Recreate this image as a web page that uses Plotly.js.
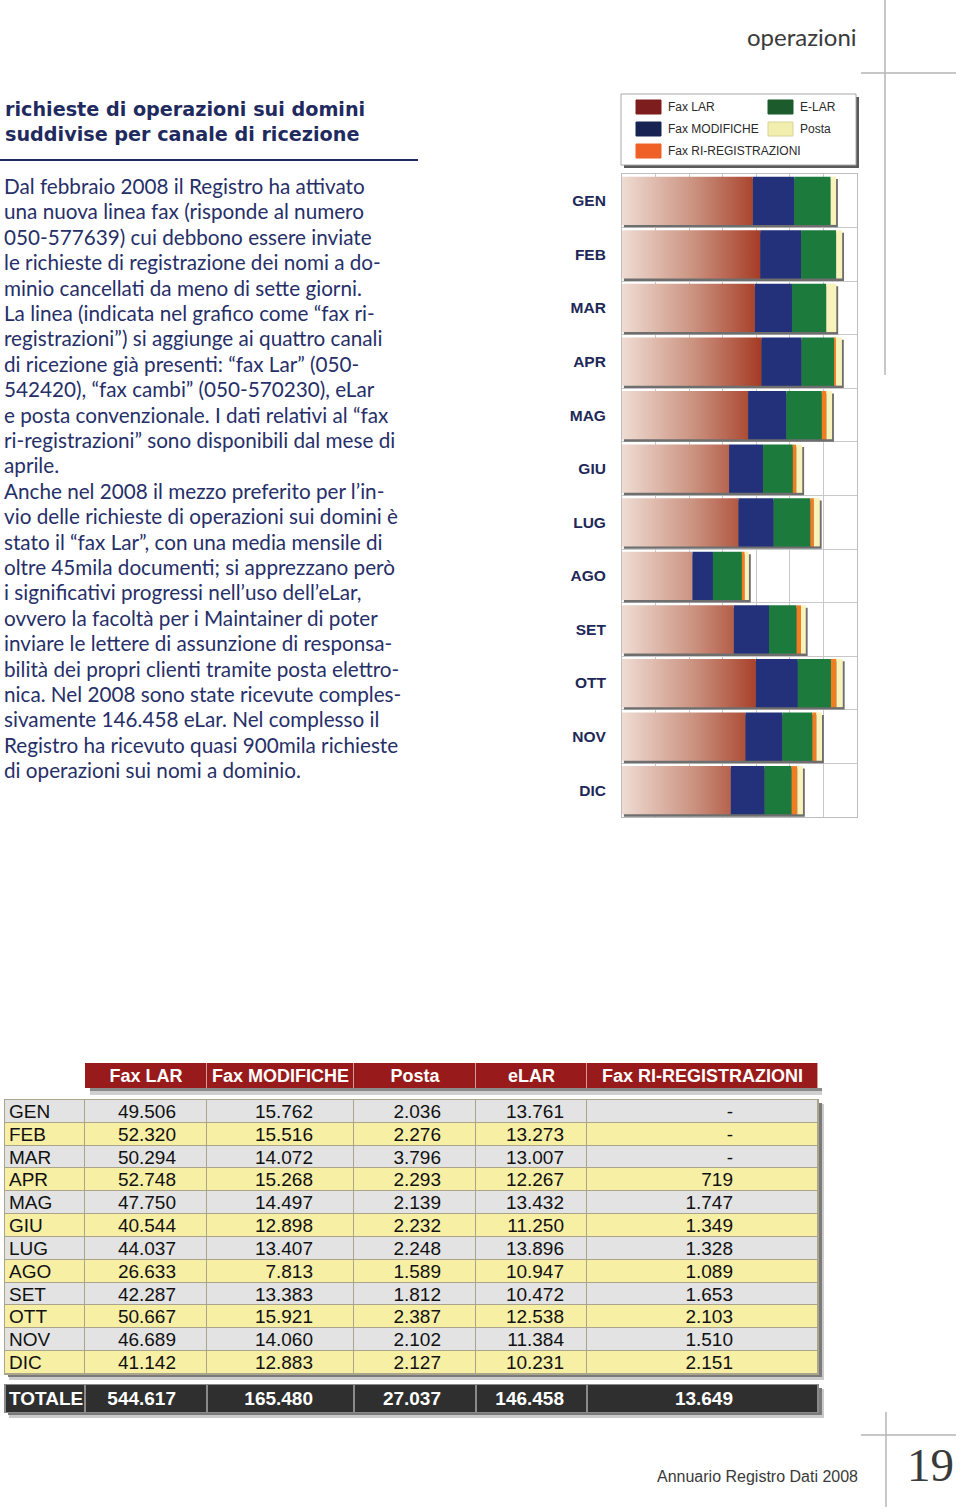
<!DOCTYPE html>
<html><head><meta charset="utf-8">
<script src="https://cdn.plot.ly/plotly-3.0.1.min.js"></script>
<style>html,body{margin:0;padding:0;background:#fff;}#chart{width:960px;height:1509px;}</style>
</head><body><div id="chart"></div>
<script>
// ---------------- DATA ----------------
const months = ['GEN','FEB','MAR','APR','MAG','GIU','LUG','AGO','SET','OTT','NOV','DIC'];
const faxLar = [49506,52320,50294,52748,47750,40544,44037,26633,42287,50667,46689,41142];
const faxModifiche = [15762,15516,14072,15268,14497,12898,13407,7813,13383,15921,14060,12883];
const posta = [2036,2276,3796,2293,2139,2232,2248,1589,1812,2387,2102,2127];
const eLar = [13761,13273,13007,12267,13432,11250,13896,10947,10472,12538,11384,10231];
const faxRiReg = [null,null,null,719,1747,1349,1328,1089,1653,2103,1510,2151];
const totali = [544617,165480,27037,146458,13649];
const tableHeaders = ['Fax LAR','Fax MODIFICHE','Posta','eLAR','Fax RI-REGISTRAZIONI'];
const totalLabel = 'TOTALE';
const legendLabels = ['Fax LAR','Fax MODIFICHE','Fax RI-REGISTRAZIONI','E-LAR','Posta'];
const titleLines = ['richieste di operazioni sui domini','suddivise per canale di ricezione'];
const bodyLines = [
 'Dal febbraio 2008 il Registro ha attivato',
 'una nuova linea fax (risponde al numero',
 '050-577639) cui debbono essere inviate',
 'le richieste di registrazione dei nomi a do-',
 'minio cancellati da meno di sette giorni.',
 'La linea (indicata nel grafico come “fax ri-',
 'registrazioni”) si aggiunge ai quattro canali',
 'di ricezione già presenti: “fax Lar” (050-',
 '542420), “fax cambi” (050-570230), eLar',
 'e posta convenzionale. I dati relativi al “fax',
 'ri-registrazioni” sono disponibili dal mese di',
 'aprile.',
 'Anche nel 2008 il mezzo preferito per l’in-',
 'vio delle richieste di operazioni sui domini è',
 'stato il “fax Lar”, con una media mensile di',
 'oltre 45mila documenti; si apprezzano però',
 'i significativi progressi nell’uso dell’eLar,',
 'ovvero la facoltà per i Maintainer di poter',
 'inviare le lettere di assunzione di responsa-',
 'bilità dei propri clienti tramite posta elettro-',
 'nica. Nel 2008 sono state ricevute comples-',
 'sivamente 146.458 eLar. Nel complesso il',
 'Registro ha ricevuto quasi 900mila richieste',
 'di operazioni sui nomi a dominio.'
];
const sectionLabel = 'operazioni';
const footerLabel = 'Annuario Registro Dati 2008';
const pageNumber = '19';

// ---------------- HELPERS ----------------
const W = 960, H = 1509;
const px = x => x / W, py = y => 1 - y / H;
const fmt = v => (v === null || v === undefined) ? '-' : String(v).replace(/\B(?=(\d{3})+(?!\d))/g, '.');
const idx = months.map((_, i) => i);
const NAVY = '#1f2a5e';
const C = {lar:'#a53b24', mod:'#22317a', elar:'#1b7a3c', rireg:'#ef7d22', posta:'#f8f2bb'};

const baseMod = faxLar.slice();
const baseElar = faxLar.map((v, i) => v + faxModifiche[i]);
const baseRi = baseElar.map((v, i) => v + eLar[i]);
const basePosta = baseRi.map((v, i) => v + (faxRiReg[i] || 0));
const monthTotal = basePosta.map((v, i) => v + posta[i]);

const BW = 0.9, BO = -0.45;
const traces = [];

// bar shadow
traces.push({type:'bar', orientation:'h', y:idx, x:monthTotal, base:700, width:BW, offset:BO+0.045,
  marker:{color:'#6e6e6e'}, hoverinfo:'skip', showlegend:false, xaxis:'x', yaxis:'y'});
// Fax LAR with gradient (rectangles through data scale)
const larX = [], larY = [];
faxLar.forEach((v, i) => {
  larX.push(0, v, v, 0, 0, null);
  larY.push(i + BO, i + BO, i + BO + BW, i + BO + BW, i + BO, null);
});
traces.push({type:'scatter', mode:'lines', x:larX, y:larY, fill:'toself', line:{width:0, color:C.lar},
  fillcolor:C.lar,
  fillgradient:{type:'horizontal', start:0, stop:53000,
    colorscale:[[0,'#efdcd3'],[0.5,'#cc9482'],[1,'#a53a23']]},
  hoverinfo:'skip', showlegend:false, xaxis:'x', yaxis:'y'});
const stackBar = (vals, base, color) => ({type:'bar', orientation:'h', y:idx, x:vals, base:base,
  width:BW, offset:BO, marker:{color:color, line:{width:0}}, hoverinfo:'skip', showlegend:false, xaxis:'x', yaxis:'y'});
traces.push(stackBar(faxModifiche, baseMod, C.mod));
traces.push(stackBar(eLar, baseElar, C.elar));
traces.push(stackBar(faxRiReg, baseRi, C.rireg));
traces.push(stackBar(posta, basePosta, C.posta));

// ---------------- TABLE (x2/y2, pixel-like units) ----------------
const colEdges = [5, 85, 207, 354, 476, 587, 818];
const colRight = [176, 313, 441, 564, 733];
const hTop = 1063, hBot = 1088, bTop = 1100, rowH = 22.83, tTop = 1385, tBot = 1412;
const TXT_DY = 1.8;
const rowEdges = months.map((_, i) => bTop + i * rowH).concat([bTop + months.length * rowH]);
const rowMid = months.map((_, i) => bTop + (i + 0.5) * rowH + TXT_DY);
const bBot = rowEdges[rowEdges.length - 1];
const tableCols = [faxLar, faxModifiche, posta, eLar, faxRiReg];

traces.push({type:'heatmap', x:colEdges, y:rowEdges,
  z: months.map((_, i) => colEdges.slice(1).map(() => i % 2)),
  colorscale:[[0,'#e3e3e3'],[1,'#f7efa3']], zmin:0, zmax:1, showscale:false, xgap:1, ygap:1,
  hoverinfo:'skip', xaxis:'x2', yaxis:'y2'});
traces.push({type:'heatmap', x:colEdges.slice(1), y:[hTop, hBot], z:[tableHeaders.map(() => 0)],
  colorscale:[[0,'#981a1a'],[1,'#981a1a']], showscale:false, xgap:1,
  hoverinfo:'skip', xaxis:'x2', yaxis:'y2'});
traces.push({type:'heatmap', x:colEdges, y:[tTop, tBot], z:[colEdges.slice(1).map(() => 0)],
  colorscale:[[0,'#2f2f2f'],[1,'#2f2f2f']], showscale:false, xgap:2,
  hoverinfo:'skip', xaxis:'x2', yaxis:'y2'});
// header text
traces.push({type:'scatter', mode:'text', x:colEdges.slice(1, -1).map((e, k) => (e + colEdges[k + 2]) / 2),
  y:tableHeaders.map(() => (hTop + hBot) / 2 + TXT_DY), text:tableHeaders, textposition:'middle center',
  textfont:{family:'Liberation Sans, Arial', size:18, color:'#ffffff', weight:'bold'},
  hoverinfo:'skip', showlegend:false, xaxis:'x2', yaxis:'y2'});
// month labels
traces.push({type:'scatter', mode:'text', x:months.map(() => 9), y:rowMid, text:months, textposition:'middle right',
  textfont:{family:'Liberation Sans, Arial', size:19, color:'#111111'},
  hoverinfo:'skip', showlegend:false, xaxis:'x2', yaxis:'y2'});
// values
tableCols.forEach((col, k) => {
  traces.push({type:'scatter', mode:'text', x:months.map(() => colRight[k]), y:rowMid, text:col.map(fmt),
    textposition:'middle left', textfont:{family:'Liberation Sans, Arial', size:19, color:'#111111'},
    hoverinfo:'skip', showlegend:false, xaxis:'x2', yaxis:'y2'});
});
// totals
traces.push({type:'scatter', mode:'text', x:[9], y:[(tTop + tBot) / 2 + TXT_DY], text:[totalLabel], textposition:'middle right',
  textfont:{family:'Liberation Sans, Arial', size:19, color:'#ffffff', weight:'bold'},
  hoverinfo:'skip', showlegend:false, xaxis:'x2', yaxis:'y2'});
traces.push({type:'scatter', mode:'text', x:colRight, y:totali.map(() => (tTop + tBot) / 2 + TXT_DY), text:totali.map(fmt),
  textposition:'middle left', textfont:{family:'Liberation Sans, Arial', size:19, color:'#ffffff', weight:'bold'},
  hoverinfo:'skip', showlegend:false, xaxis:'x2', yaxis:'y2'});

// ---------------- SHAPES & ANNOTATIONS ----------------
const shapes = [];
const ann = [];
const pline = (x0, y0, x1, y1, color, w) => shapes.push({type:'line', xref:'paper', yref:'paper',
  x0:px(x0), y0:py(y0), x1:px(x1), y1:py(y1), line:{color:color, width:w}});
const prect = (x0, y0, x1, y1, fill, lc, lw, layer) => shapes.push({type:'rect', xref:'paper', yref:'paper',
  x0:px(x0), y0:py(y0), x1:px(x1), y1:py(y1), fillcolor:fill, line:{color:lc || fill, width:lw || 0}, layer:layer || 'above'});
const trect = (x0, y0, x1, y1, fill) => shapes.push({type:'rect', xref:'x2', yref:'y2', x0, y0, x1, y1,
  fillcolor:fill, line:{width:0}, layer:'below'});
const txt = (x, y, s, font, xa) => ann.push({xref:'paper', yref:'paper', x:px(x), y:py(y), text:s,
  showarrow:false, xanchor:xa || 'left', yanchor:'middle', font:font});

// page decorations
pline(885, 0, 885, 375, '#b4b4b4', 1.5);
pline(861, 73, 956, 73, '#b4b4b4', 1.5);
pline(861, 1435, 956, 1435, '#b4b4b4', 1.5);
pline(886, 1412, 886, 1507, '#b4b4b4', 1.5);
pline(0, 160, 418, 160, NAVY, 2);
txt(859, 37, sectionLabel, {family:'Lato', size:24, color:'#3a3a3a'}, 'right');
txt(860, 1476, footerLabel, {family:'Liberation Sans, Arial', size:16, color:'#3a3a3a'}, 'right');
txt(905, 1465, pageNumber, {family:'Liberation Serif, serif', size:47, color:'#3a3a3a'}, 'left');

// title and body text
titleLines.forEach((s, k) => txt(3, 109 + k * 25, s, {family:'DejaVu Sans', size:19.2, color:NAVY, weight:'bold'}));
bodyLines.forEach((s, k) => txt(2, 186 + k * 25.4, s, {family:'Lato', size:20.7, color:'#262f68'}));

// chart legend box
prect(624, 97, 859, 168, '#5a5a5a');
prect(621, 94, 856, 165, '#ffffff', '#a8a8a8', 1);
const legColors = ['#7e1d1d', '#172453', '#ef6127', '#1c5b2c', '#f2eeae'];
const legPos = [[636, 107], [636, 129], [636, 151], [768, 107], [768, 129]];
legendLabels.forEach((s, k) => {
  const [lx, ly] = legPos[k];
  prect(lx, ly - 7, lx + 25, ly + 7, legColors[k], k === 4 ? '#d8d29a' : legColors[k], 1);
  txt(lx + 30, ly, s, {family:'Liberation Sans, Arial', size:12, color:'#2a2a2a'});
});

// table shadows & line backgrounds
trect(90, hBot, 822, hBot + 3, '#8a8a8a');
trect(90, hBot + 3, 822, hBot + 7, '#cfcfcf');
trect(9, bTop + 4, 824, bBot + 6, '#cacaca');
trect(8, bTop + 3, 822, bBot + 3, '#7a7a7a');
trect(9, tTop + 4, 824, tBot + 6, '#cacaca');
trect(8, tTop + 3, 822, tBot + 3, '#7a7a7a');
trect(colEdges[0] - 1, bTop - 1, colEdges[6] + 1, bBot + 1, '#aaa48a');
trect(colEdges[1], hTop, colEdges[6], hBot, '#d59b9b');
trect(colEdges[0] - 1, tTop - 1, colEdges[6] + 1, tBot + 1, '#8a8a8a');

const hiddenAxis = {visible:false, showgrid:false, zeroline:false, fixedrange:true};
const layout = {
  width:W, height:H, margin:{l:0, r:0, t:0, b:0}, paper_bgcolor:'#ffffff', plot_bgcolor:'#ffffff',
  showlegend:false, hovermode:false, barmode:'overlay',
  xaxis:{domain:[px(622), px(857)], range:[0, 89000], tick0:0, dtick:89000 / 7, showticklabels:false,
    showgrid:true, gridcolor:'#c8c8c8', gridwidth:1, zeroline:false, showline:true, mirror:true,
    linecolor:'#bdbdbd', linewidth:1, ticks:'', fixedrange:true, anchor:'y'},
  yaxis:{domain:[py(817), py(174)], range:[11.5, -0.5], tickvals:idx, ticktext:months, ticks:'',
    ticklabelstandoff:12, showgrid:false, zeroline:false, showline:true, mirror:true, linecolor:'#bdbdbd',
    tickfont:{family:'Liberation Sans, Arial', size:15.5, color:'#1d2858', weight:'bold'},
    minor:{tick0:0.5, dtick:1, showgrid:true, gridcolor:'#c8c8c8', gridwidth:1, ticks:''},
    fixedrange:true, anchor:'x'},
  xaxis2:Object.assign({domain:[0, px(840)], range:[0, 840], anchor:'y2'}, hiddenAxis),
  yaxis2:Object.assign({domain:[py(1425), py(1050)], range:[1425, 1050], anchor:'x2'}, hiddenAxis),
  shapes:shapes, annotations:ann
};
Plotly.newPlot('chart', traces, layout, {staticPlot:true, displayModeBar:false});
</script></body></html>
